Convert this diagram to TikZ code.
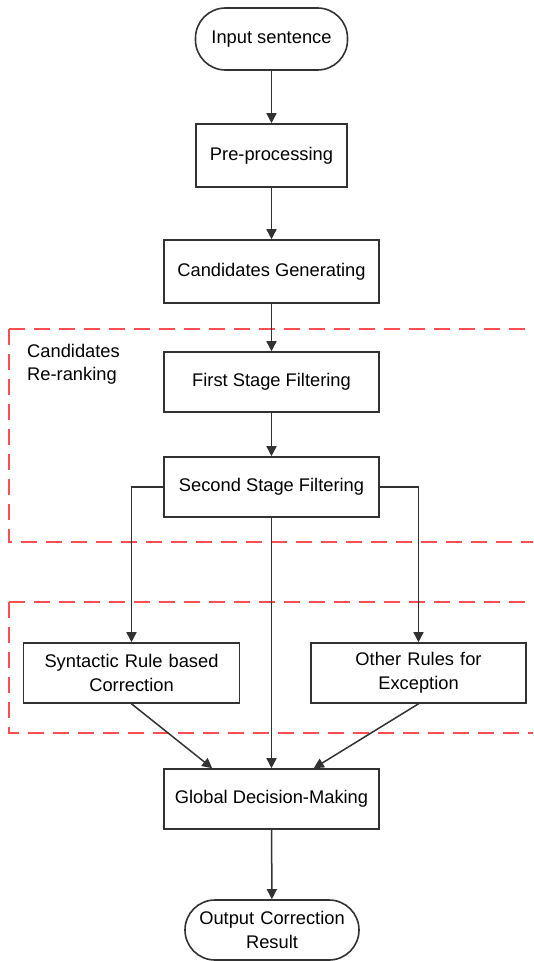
\documentclass[tikz,border=0pt]{standalone}
\usepackage{fontspec}
\setmainfont{Liberation Sans}
\usetikzlibrary{arrows.meta}
\definecolor{dashred}{RGB}{252,80,80}
\definecolor{edgegray}{RGB}{50,50,50}
\begin{document}
\begin{tikzpicture}[x=1pt,y=-1pt,
  box/.style={draw=edgegray, line width=1.6pt, minimum height=60pt, inner sep=0pt, align=center, font=\fontsize{18.3}{23.5}\selectfont},
  term/.style={box, rounded corners=30pt},
  arr/.style={draw=edgegray, line width=1.5pt, -{Triangle[length=10pt,width=10pt]}},
  dashbox/.style={draw=dashred, line width=1.5pt, dash pattern=on 16pt off 9pt},
  lbl/.style={inner sep=0pt, align=left, anchor=north west, font=\fontsize{18.3}{23.5}\selectfont}]
\useasboundingbox (0,0) rectangle (533,961);

\draw[dashbox] (9,329) -- (533,329);
\draw[dashbox] (9,329) -- (9,542) -- (533,542);
\draw[dashbox] (9,602) -- (533,602);
\draw[dashbox] (9,602) -- (9,733) -- (533,733);

\node[term, minimum width=152pt, minimum height=62pt] (in) at (271.5,39) {Input sentence};
\node[box, minimum width=151pt, minimum height=63pt] (pre) at (271.5,155.5) {Pre-processing};
\node[box, minimum width=215pt, minimum height=63pt] (cand) at (271.5,271.5) {Candidates Generating};
\node[box, minimum width=215pt] (first) at (271.5,382) {First Stage Filtering};
\node[box, minimum width=215pt] (second) at (271.5,487) {Second Stage Filtering};
\node[box, minimum width=216pt, text width=205pt] (syn) at (131.5,673) {Syntactic Rule based\\Correction};
\node[box, minimum width=215pt, text width=205pt] (oth) at (418.5,673) {Other Rules for\\Exception};
\node[box, minimum width=215pt] (glob) at (271.5,799) {Global Decision-Making};
\node[term, minimum width=174pt, text width=170pt] (out) at (272,930) {Output Correction\\Result};
\node[lbl] (rr) at (27,344) {Candidates\\Re-ranking};

\draw[arr] (in) -- (pre);
\draw[arr] (pre) -- (cand);
\draw[arr] (cand) -- (first);
\draw[arr] (first) -- (second);
\draw[arr] (second.west) -| (syn.north);
\draw[arr] (second.east) -| (oth.north);
\draw[arr] (second.south) -- (glob.north);
\draw[arr] (syn.south) -- ([xshift=49pt]glob.north west);
\draw[arr] (oth.south) -- ([xshift=-66pt]glob.north east);
\draw[arr] (glob) -- (out);
\end{tikzpicture}
\end{document}
